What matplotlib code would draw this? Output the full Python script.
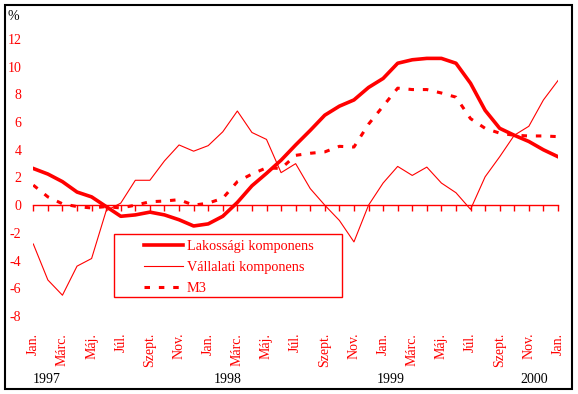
import numpy as np
import matplotlib.pyplot as plt
from matplotlib.patches import Rectangle

plt.rcParams['font.family'] = ['Liberation Serif', 'DejaVu Serif']
plt.rcParams['axes.unicode_minus'] = False

# monthly data, Jan 1997 .. Jan 2000
lakossagi = [2.65, 2.25, 1.7, 0.95, 0.6, -0.1, -0.8, -0.7, -0.5, -0.7, -1.05, -1.5,
             -1.35, -0.8, 0.2, 1.4, 2.3, 3.25, 4.35, 5.4, 6.5, 7.15, 7.6, 8.5,
             9.15, 10.25, 10.5, 10.6, 10.6, 10.25, 8.8, 6.85, 5.55, 5.05, 4.6, 4.0,
             3.5]
vallalati = [-2.8, -5.4, -6.5, -4.4, -3.85, -0.4, 0.15, 1.8, 1.8, 3.2, 4.35, 3.9,
             4.3, 5.3, 6.8, 5.25, 4.75, 2.35, 3.0, 1.2, 0.0, -1.1, -2.65, 0.0,
             1.6, 2.8, 2.15, 2.75, 1.6, 0.9, -0.3, 2.05, 3.5, 5.05, 5.7, 7.6,
             9.0]
m3 = [1.45, 0.6, 0.1, -0.1, -0.2, -0.1, -0.2, 0.0, 0.25, 0.3, 0.4, 0.0,
      0.15, 0.5, 1.7, 2.25, 2.7, 2.65, 3.6, 3.75, 3.85, 4.25, 4.2, 5.85,
      7.15, 8.45, 8.35, 8.35, 8.1, 7.8, 6.25, 5.55, 5.2, 5.05, 5.0, 5.0,
      4.95]

month_labels = ['Jan.', 'Márc.', 'Máj.', 'Júl.', 'Szept.', 'Nov.'] * 3 + ['Jan.']
years = ['1997', '1998', '1999', '2000']
year_pos = [0.9, 13.35, 24.5, 34.4]

fig = plt.figure(figsize=(5.78, 3.94), dpi=100)
ax = fig.add_axes([33.3 / 578, 78 / 394, 524.7 / 578, 277 / 394])

x = np.arange(len(lakossagi))
ax.plot(x, lakossagi, color='red', lw=2.6, label='Lakossági komponens')
ax.plot(x, vallalati, color='red', lw=0.8, label='Vállalati komponens')
ax.plot(x, m3, color='red', lw=2.2, dashes=(1.8, 2.9), label='M3')

ax.set_xlim(0, 36)
ax.set_ylim(-8, 12)
ax.set_yticks(range(-8, 13, 2))
ax.tick_params(axis='y', length=0, pad=8.5, labelcolor='red', labelsize=10)

for s in ['left', 'right', 'top']:
    ax.spines[s].set_visible(False)
ax.spines['bottom'].set_position(('data', 0))
ax.spines['bottom'].set_color('red')
ax.spines['bottom'].set_linewidth(1)

ax.set_xticks(range(0, 37, 2))
ax.set_xticklabels(month_labels, rotation=90)
ax.set_xticks(range(37), minor=True)
ax.tick_params(axis='x', which='both', direction='out', length=4, color='red', width=1)
ax.tick_params(axis='x', which='major', labelcolor='red', labelsize=10, pad=88)

for yr, p in zip(years, year_pos):
    ax.text(p, -12.6, yr, ha='center', va='center', fontsize=10, color='black', clip_on=False)

# legend box
box = Rectangle((0.1538, 0.0686), 0.4345, 0.2274, transform=ax.transAxes,
                facecolor='white', edgecolor='red', lw=1, zorder=5, clip_on=False)
ax.add_patch(box)
leg = ax.legend(loc='upper left', bbox_to_anchor=(0.198, 0.30), frameon=False,
                borderpad=0, handlelength=2.73, handletextpad=0.24, labelspacing=0.57,
                fontsize=10.3, labelcolor='red')
leg.set_zorder(6)

fig.text(8 / 578, 1 - 17 / 394, '%', ha='left', va='center', fontsize=10)
fig.patches.append(Rectangle((5 / 578, 5 / 394), 567 / 578, 384 / 394, transform=fig.transFigure,
                             fill=False, edgecolor='black', lw=1.5))

fig.savefig('out.png', dpi=100)
